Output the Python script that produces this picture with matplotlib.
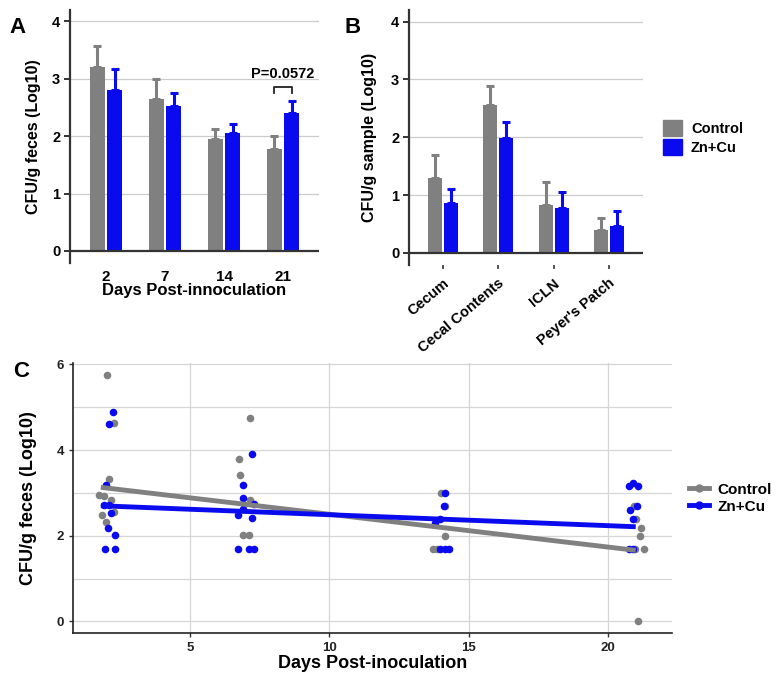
import numpy as np
import matplotlib
matplotlib.use("Agg")
import matplotlib.pyplot as plt
import matplotlib.transforms as mtransforms
from matplotlib.lines import Line2D
from matplotlib.patches import Patch

plt.rcParams['font.family'] = ['Liberation Sans', 'DejaVu Sans']
plt.rcParams['font.weight'] = 'bold'
plt.rcParams['axes.labelweight'] = 'bold'

GRAY = "#808080"
BLUE = "#0a0aee"

# --- Panel A: feces CFU by day (mean + upper SEM)
days_a = ["2", "7", "14", "21"]
ctrl_a = [3.21, 2.65, 1.95, 1.77]
ctrl_a_err = [0.37, 0.34, 0.17, 0.24]
zn_a = [2.80, 2.52, 2.05, 2.40]
zn_a_err = [0.37, 0.24, 0.17, 0.22]

# --- Panel B: tissue CFU
tissues = ["Cecum", "Cecal Contents", "ICLN", "Peyer's Patch"]
ctrl_b = [1.29, 2.56, 0.83, 0.39]
ctrl_b_err = [0.41, 0.32, 0.39, 0.21]
zn_b = [0.86, 1.99, 0.78, 0.46]
zn_b_err = [0.25, 0.28, 0.28, 0.26]

# --- Panel C: individual animals (jittered day, log10 CFU)
ctrl_day = [2.03, 2.27, 2.11, 1.75, 1.91, 2.15, 1.83, 2.00, 2.27,
            7.16, 6.77, 6.78, 7.16, 6.92, 7.10,
            14.02, 14.14, 14.17, 13.72, 13.85,
            21.08, 21.20, 21.14, 21.28, 21.02, 20.95, 20.96]
ctrl_cfu = [5.75, 4.64, 3.32, 2.95, 2.93, 2.83, 2.48, 2.31, 2.56,
            4.75, 3.79, 3.42, 2.83, 2.01, 2.01,
            3.00, 2.70, 2.00, 1.70, 1.70,
            0.00, 2.18, 2.00, 1.70, 2.39, 2.70, 1.70]
zn_day = [2.22, 2.08, 1.97, 1.91, 2.10, 2.18, 2.05, 2.30, 1.95, 2.30,
          7.22, 6.89, 6.89, 7.28, 6.89, 6.74, 7.22, 6.74, 7.10, 7.28,
          14.17, 14.10, 13.78, 13.98, 13.96, 14.14, 14.29,
          20.75, 20.90, 21.08, 21.04, 20.81, 20.90, 20.75, 20.90]
zn_cfu = [4.88, 4.60, 3.18, 2.71, 2.71, 2.54, 2.19, 2.01, 1.70, 1.70,
          3.91, 3.18, 2.89, 2.75, 2.62, 2.48, 2.41, 1.70, 1.70, 1.70,
          3.00, 2.70, 2.30, 2.39, 1.70, 1.70, 1.70,
          3.15, 3.22, 3.15, 2.70, 2.60, 2.40, 1.70, 1.70]
# linear fit lines as drawn (endpoints)
fit_days = [1.8, 21.0]
fit_ctrl = [3.13, 1.66]
fit_zn = [2.70, 2.21]

fig = plt.figure(figsize=(7.84, 6.79), dpi=100)

err_kw = dict(elinewidth=2.2, capsize=3, capthick=2.2)


def bar_panel(ax, labels, c, ce, z, ze):
    x = np.arange(len(labels))
    w = 0.25
    ax.bar(x - 0.145, c, w, color=GRAY, zorder=3)
    ax.bar(x + 0.145, z, w, color=BLUE, zorder=3)
    ax.errorbar(x - 0.145, c, yerr=[np.zeros(len(c)), ce], fmt="none",
                ecolor=GRAY, zorder=2, **err_kw)
    ax.errorbar(x + 0.145, z, yerr=[np.zeros(len(z)), ze], fmt="none",
                ecolor=BLUE, zorder=2, **err_kw)
    ax.set_xlim(-0.61, len(labels) - 0.39)
    ax.set_ylim(-0.21, 4.2)
    ax.set_yticks([0, 1, 2, 3, 4])
    for v in [1, 2, 3, 4]:
        ax.axhline(v, color="#cccccc", lw=0.9, zorder=1)
    ax.axhline(0, color="#333333", lw=1.6, zorder=4)
    for s in ["top", "right", "bottom"]:
        ax.spines[s].set_visible(False)
    ax.spines["left"].set_color("#333333")
    ax.spines["left"].set_linewidth(1.6)
    ax.tick_params(axis="y", labelsize=10.5, length=4, width=1.4, color="#333333", pad=3)
    ax.set_xticks(x)
    return x


# Panel A
axA = fig.add_axes([0.0893, 0.6127, 0.3176, 0.3726])
x = bar_panel(axA, days_a, ctrl_a, ctrl_a_err, zn_a, zn_a_err)
axA.set_xticklabels(days_a, fontsize=11)
axA.tick_params(axis="x", length=0, pad=5)
axA.set_xlabel("Days Post-innoculation", fontsize=12, labelpad=-1)
axA.set_ylabel("CFU/g feces (Log10)", fontsize=11.5, labelpad=8)
axA.plot([2.855, 2.855, 3.145, 3.145], [2.76, 2.85, 2.85, 2.76], color="#222222", lw=1.3)
axA.text(3, 3.08, "P=0.0572", ha="center", va="center", fontsize=10.5)

# Panel B
axB = fig.add_axes([0.5217, 0.6097, 0.2985, 0.3756])
x = bar_panel(axB, tissues, ctrl_b, ctrl_b_err, zn_b, zn_b_err)
axB.set_xticklabels(tissues, rotation=40, ha="right", va="center",
                    rotation_mode="anchor", fontsize=10.5)
axB.tick_params(axis="x", length=3, width=1.4, color="#555555", pad=1)
shift = mtransforms.ScaledTranslation(0.04, -0.11, fig.dpi_scale_trans)
for lab in axB.get_xticklabels():
    lab.set_transform(lab.get_transform() + shift)
axB.set_ylabel("CFU/g sample (Log10)", fontsize=11.5, labelpad=10)
axB.legend(handles=[Patch(color=GRAY, label="Control"), Patch(color=BLUE, label="Zn+Cu")],
           loc="center left", bbox_to_anchor=(1.03, 0.5), frameon=False,
           fontsize=10.5, handlelength=1.3, handleheight=1.4, handletextpad=0.6,
           labelspacing=0.15)

# Panel C
axC = fig.add_axes([0.0931, 0.0677, 0.764, 0.3976])
axC.scatter(ctrl_day, ctrl_cfu, s=30, color=GRAY, zorder=3, linewidths=0)
axC.scatter(zn_day, zn_cfu, s=30, color=BLUE, zorder=3, linewidths=0)
axC.plot(fit_days, fit_ctrl, color=GRAY, lw=3.5, zorder=4, solid_capstyle="butt")
axC.plot(fit_days, fit_zn, color=BLUE, lw=3.5, zorder=4, solid_capstyle="butt")
axC.set_xlim(0.8, 22.3)
axC.set_ylim(-0.27, 6.03)
axC.set_xticks([5, 10, 15, 20])
axC.set_yticks([0, 2, 4, 6])
axC.set_yticks([1, 3, 5], minor=True)
axC.grid(True, which="both", axis="y", color="#d6d6d6", lw=0.9)
axC.grid(True, which="major", axis="x", color="#d6d6d6", lw=0.9)
axC.set_axisbelow(True)
for s in ["top", "right"]:
    axC.spines[s].set_visible(False)
for s in ["left", "bottom"]:
    axC.spines[s].set_color("#222222")
    axC.spines[s].set_linewidth(1.2)
axC.tick_params(axis="both", labelsize=9.5, length=3, width=1, color="#333333", labelcolor="#222222")
axC.tick_params(axis="y", which="minor", length=0)
axC.set_xlabel("Days Post-inoculation", fontsize=13, labelpad=1)
axC.set_ylabel("CFU/g feces (Log10)", fontsize=13, labelpad=14)
axC.legend(handles=[Line2D([], [], color=GRAY, lw=3.5, marker="o", markersize=5, label="Control"),
                    Line2D([], [], color=BLUE, lw=3.5, marker="o", markersize=5, label="Zn+Cu")],
           loc="center left", bbox_to_anchor=(1.005, 0.5), frameon=False, fontsize=11,
           handlelength=1.3, handletextpad=0.6, labelspacing=0.2)

# panel letters
fig.text(0.012, 0.975, "A", fontsize=16, fontweight="bold", va="top")
fig.text(0.44, 0.975, "B", fontsize=16, fontweight="bold", va="top")
fig.text(0.017, 0.468, "C", fontsize=16, fontweight="bold", va="top")

fig.savefig("out.png", dpi=100)
